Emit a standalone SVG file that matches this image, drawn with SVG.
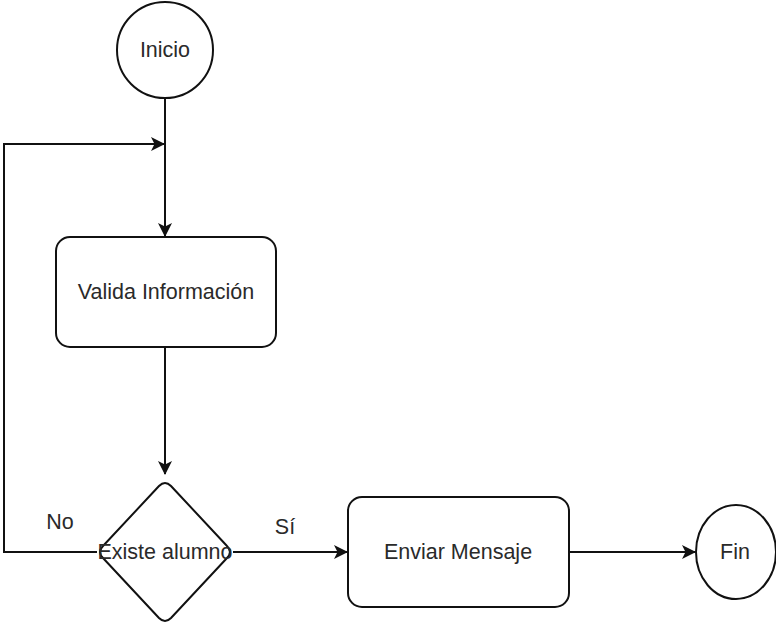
<svg xmlns="http://www.w3.org/2000/svg" width="776" height="624" viewBox="0 0 776 624">
  <style>
    .shape { fill: #ffffff; stroke: #111111; stroke-width: 2; }
    .edge { fill: none; stroke: #111111; stroke-width: 2; }
    .label { font-family: "Liberation Sans", Arial, sans-serif; font-size: 21.5px; fill: #2a2a2a; text-anchor: middle; dominant-baseline: central; }
  </style>
  <defs>
    <marker id="arrow" viewBox="0 0 14 14" refX="13" refY="7" markerWidth="14" markerHeight="14" markerUnits="userSpaceOnUse" orient="auto">
      <path d="M0,0 L14,7 L0,14 L3.5,7 Z" fill="#111111"/>
    </marker>
  </defs>
  <rect width="776" height="624" fill="#ffffff"/>

  <g id="connectors">
    <path class="edge" d="M165,98 L165,236" marker-end="url(#arrow)"/>
    <path class="edge" d="M165,347 L165,474" marker-end="url(#arrow)"/>
    <path class="edge" d="M97,552 L4,552 L4,144 L164,144" marker-end="url(#arrow)"/>
    <path class="edge" d="M233,552 L347,552" marker-end="url(#arrow)"/>
    <path class="edge" d="M569,552 L695,552" marker-end="url(#arrow)"/>
    <text class="label" x="60" y="522">No</text>
    <text class="label" x="285" y="527">Sí</text>
  </g>

  <g id="inicio">
    <circle class="shape" cx="165" cy="50" r="48"/>
    <text class="label" x="165" y="50">Inicio</text>
  </g>

  <g id="valida">
    <rect class="shape" x="56" y="237" width="220" height="110" rx="14"/>
    <text class="label" x="166" y="292">Valida Información</text>
  </g>

  <g id="existe">
    <path class="shape" d="M159,486 Q165,480 171,486 L227,546 Q233,552 227,558 L171,618 Q165,624 159,618 L103,558 Q97,552 103,546 Z"/>
    <text class="label" x="165" y="552">Existe alumno</text>
  </g>

  <g id="enviar">
    <rect class="shape" x="348" y="497" width="221" height="110" rx="14"/>
    <text class="label" x="458" y="552">Enviar Mensaje</text>
  </g>

  <g id="fin">
    <ellipse class="shape" cx="736" cy="552" rx="40" ry="47"/>
    <text class="label" x="735" y="552">Fin</text>
  </g>
</svg>
